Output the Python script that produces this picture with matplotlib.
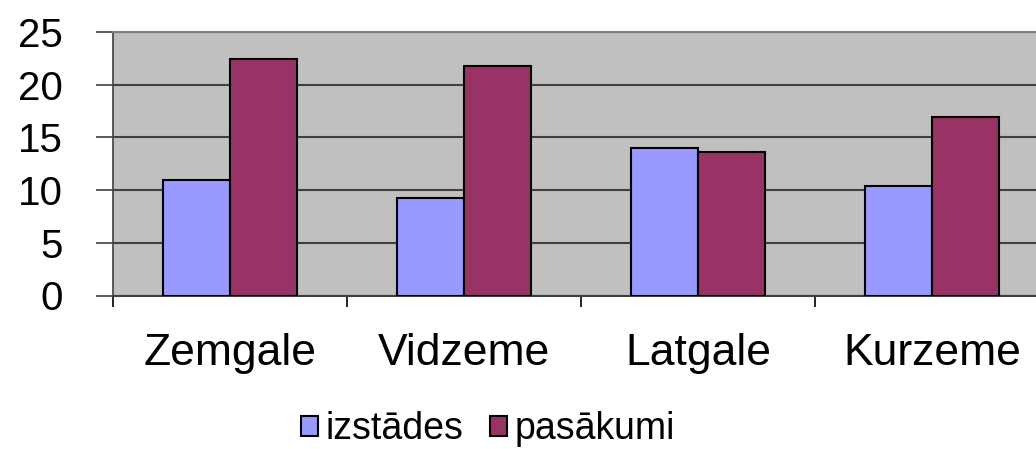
import numpy as np
import matplotlib.pyplot as plt

plt.rcParams['font.family'] = ['Liberation Sans', 'DejaVu Sans']

regions = ['Zemgale', 'Vidzeme', 'Latgale', 'Kurzeme']
izstades = [11.0, 9.25, 14.0, 10.4]
pasakumi = [22.4, 21.8, 13.65, 16.9]
yticks = [0, 5, 10, 15, 20, 25]

fig = plt.figure(figsize=(10.36, 4.49), dpi=100)
# plot area runs past the right edge of the picture, as in the original
ax = fig.add_axes([113 / 1036, 153.5 / 449, 936 / 1036, 263.5 / 449])
ax.set_facecolor('#C0C0C0')

x = np.arange(len(regions))
w = 0.286
ax.bar(x - w / 2, izstades, w, color='#9999FF', edgecolor='black', linewidth=1.5,
       label='izstādes', zorder=3)
ax.bar(x + w / 2, pasakumi, w, color='#993366', edgecolor='black', linewidth=1.5,
       label='pasākumi', zorder=3)

ax.set_xlim(-0.5, len(regions) - 0.5)
ax.set_ylim(0, 25)
ax.set_yticks(yticks)
ax.yaxis.grid(True, color='#404040', linewidth=1.5, zorder=1)
ax.tick_params(axis='y', length=12, width=1.2, color='#404040', pad=24, labelsize=29)

ax.set_xticks(x)
ax.set_xticklabels(regions)
ax.set_xticks(np.arange(len(regions) + 1) - 0.5, minor=True)
ax.tick_params(axis='x', which='major', length=0, pad=27, labelsize=32)
ax.tick_params(axis='x', which='minor', length=8, width=1.2, color='black')

ax.spines['right'].set_visible(False)
ax.spines['top'].set_color('#808080')
ax.spines['top'].set_linewidth(1.5)
ax.spines['bottom'].set_color('#404040')
ax.spines['bottom'].set_linewidth(1.5)
ax.spines['left'].set_color('#404040')
ax.spines['left'].set_linewidth(1.2)

fig.legend(loc='center', bbox_to_anchor=(488 / 1036, 20 / 449), ncol=2,
           frameon=False, fontsize=27, handlelength=0.45, handleheight=0.45,
           handletextpad=0.2, columnspacing=0.7, borderaxespad=0)

fig.savefig('out.png', dpi=100)
